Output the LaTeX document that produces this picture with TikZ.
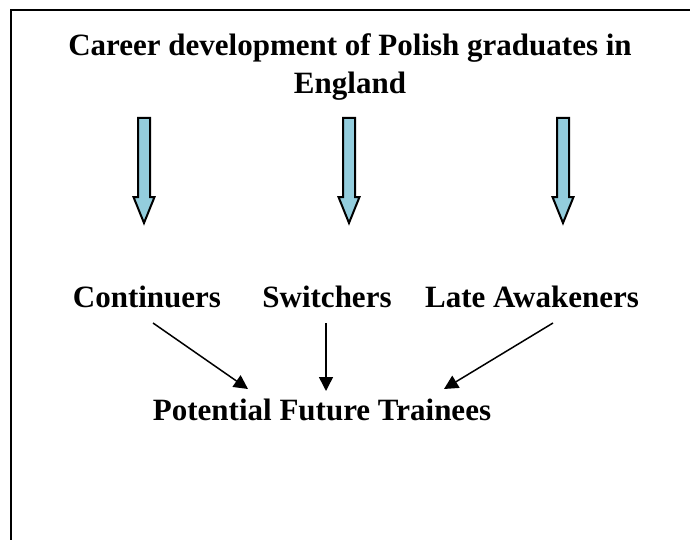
\documentclass[tikz,border=0pt]{standalone}
\usepackage{fontspec}
\setmainfont{Liberation Serif}
\usetikzlibrary{arrows.meta}
\definecolor{blockblue}{RGB}{147,205,221}
\begin{document}
\begin{tikzpicture}[x=1pt,y=-1pt,
  lbl/.style={font=\fontsize{31}{38}\selectfont\bfseries, inner sep=0pt, align=center},
  blockarrow/.style={draw=black, line width=2pt, fill=blockblue, line join=miter},
  thin/.style={line width=1.5pt, -{Triangle[length=14pt,width=14pt]}}]
\useasboundingbox (0,0) rectangle (690,540);
% page frame
\draw[line width=2pt] (11,541) -- (11,10) -- (691,10);

% title
\node[lbl] (title) at (350,67) {Career development of Polish graduates in\\England};

% three block arrows
\foreach \cx in {144,349,563}{
  \draw[blockarrow] (\cx-6,118) -- (\cx+6,118) -- (\cx+6,197) -- (\cx+10.5,197)
    -- (\cx,223) -- (\cx-10.5,197) -- (\cx-6,197) -- cycle;
}

% categories
\node[lbl] (cont) at (147,297) {Continuers};
\node[lbl] (swit) at (327,297) {Switchers};
\node[lbl] (late) at (532,297) {Late Awakeners};
\node[lbl] (pft)  at (322,410) {Potential Future Trainees};

\coordinate (a1) at (153,323);
\coordinate (a2) at (326,323);
\coordinate (a3) at (553,323);
\coordinate (b1) at (248,389);
\coordinate (b2) at (326,391);
\coordinate (b3) at (444,389);

\draw[thin] (a1) -- (b1);
\draw[thin] (a2) -- (b2);
\draw[thin] (a3) -- (b3);
\end{tikzpicture}
\end{document}
